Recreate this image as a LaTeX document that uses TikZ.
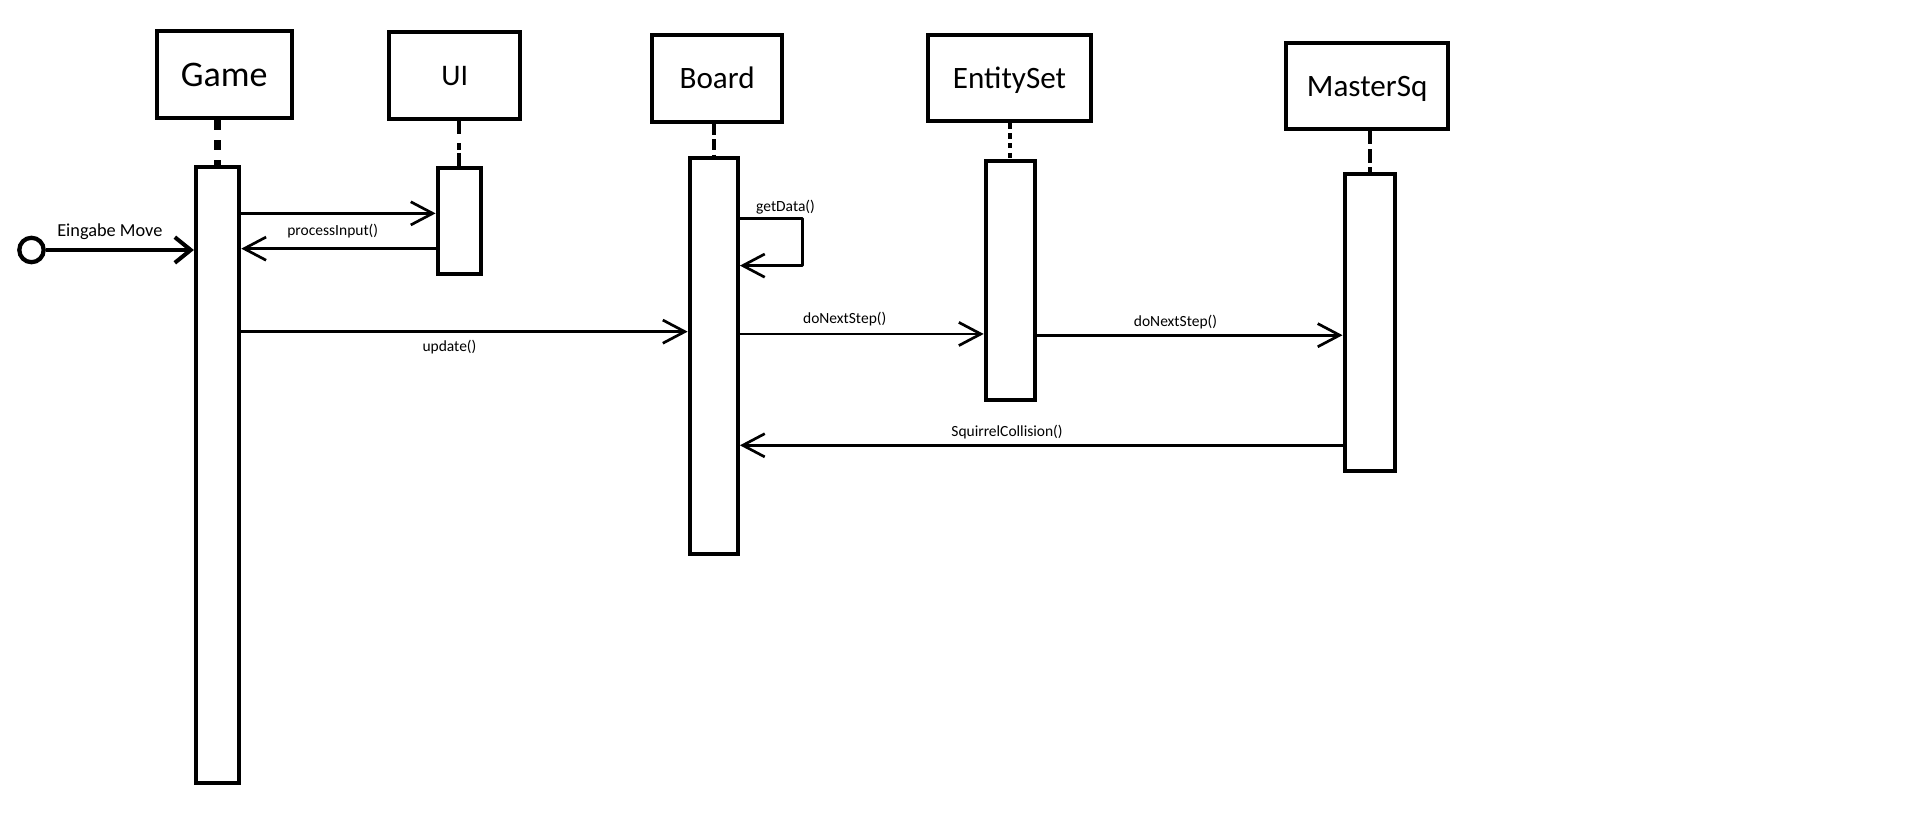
\documentclass[tikz,border=0pt]{standalone}
\usepackage{fontspec}
\setmainfont{Carlito}
\usetikzlibrary{arrows.meta}
\begin{document}
\begin{tikzpicture}[x=1pt,y=-1pt,
  obj/.style={draw, line width=3.3pt, inner sep=0pt, text height=16.8pt, text depth=0pt, font=\fontsize{25.5}{30}\selectfont},
  act/.style={draw, line width=3.3pt, inner sep=0pt, fill=white},
  msg/.style={line width=2.2pt, -{Straight Barb[length=18pt,width=19pt,line width=2.2pt]}},
  lbl/.style={inner sep=0pt, text height=8.4pt, text depth=0pt, font=\fontsize{12.7}{15}\selectfont},
  life/.style={line width=3.3pt}
]
\useasboundingbox[fill=white] (0,0) rectangle (1568,685);

% objects
\node[obj, minimum width=110.5pt, minimum height=71.5pt, text height=19.5pt, font=\fontsize{29.5}{34}\selectfont] (game) at (183.75,61.25) {Game};
\node[obj, minimum width=107pt, minimum height=71.5pt, text height=16.2pt, font=\fontsize{24.5}{30}\selectfont] (ui) at (372.5,61.75) {UI};
\node[obj, minimum width=106pt, minimum height=71.5pt] (board) at (587.5,64.25) {Board};
\node[obj, minimum width=134pt, minimum height=71pt] (es) at (827,64) {EntitySet};
\node[obj, minimum width=133pt, minimum height=70.5pt] (ms) at (1120,70.25) {MasterSq};

% activations
\node[act, minimum width=35.5pt, minimum height=504.5pt] (gameA) at (178.25,389.25) {};
\node[act, minimum width=35.5pt, minimum height=86.5pt] (uiA) at (376.25,181.25) {};
\node[act, minimum width=39.5pt, minimum height=324.5pt] (boardA) at (584.75,291.75) {};
\node[act, minimum width=40pt, minimum height=196.5pt] (esA) at (827.5,229.75) {};
\node[act, minimum width=41pt, minimum height=243.5pt] (msA) at (1122,264.25) {};

% lifelines
\draw[line width=6.4pt, dash pattern=on 8.2pt off 8.2pt] (gameA.north |- game.south) -- (gameA.north);
\draw[line width=3pt, dash pattern=on 11pt off 7.4pt on 5pt off 2.6pt on 30pt] (uiA.north |- ui.south) -- (uiA.north);
\draw[life, dash pattern=on 9pt off 3.5pt] (boardA.north |- board.south) -- (boardA.north);
\draw[life, dash pattern=on 4.5pt off 3.5pt] (esA.north |- es.south) -- (esA.north);
\draw[life, dash pattern=on 11pt off 4pt] (msA.north |- ms.south) -- (msA.north);

% initial message
\node[draw, circle, line width=3.5pt, minimum size=20pt, inner sep=0pt] (start) at (25.8,204.8) {};
\draw[line width=3.3pt, -{Straight Barb[length=13pt,width=21pt,line width=3.3pt]}] (start.east) -- (gameA.west |- start);
\node[lbl, text height=9.9pt, font=\fontsize{15}{18}\selectfont] (lEin) at (90,189) {Eingabe Move};

% processInput
\coordinate (y1) at (0,174.8);
\coordinate (y2) at (0,203.7);
\draw[msg] (gameA.east |- y1) -- (uiA.west |- y1);
\draw[msg] (uiA.west |- y2) -- (gameA.east |- y2);
\node[lbl] (lPI) at (272.6,189) {processInput()};

% update
\coordinate (y3) at (0,271.7);
\draw[msg] (gameA.east |- y3) -- (boardA.west |- y3);
\node[lbl] (lUp) at (368.2,284) {update()};

% getData self loop
\coordinate (y4) at (0,178.9);
\coordinate (y5) at (0,217.6);
\coordinate (c1) at (657.3,178.9);
\coordinate (c2) at (657.3,217.6);
\draw[msg, line join=round] (boardA.east |- y4) -- (c1) -- (c2) -- (boardA.east |- y5);
\node[lbl] (lGD) at (643.5,169.3) {getData()};

% doNextStep
\coordinate (y6) at (0,273.6);
\draw[msg] (boardA.east |- y6) -- (esA.west |- y6);
\node[lbl] (lDN1) at (692,260.7) {doNextStep()};
\coordinate (y7) at (0,274.6);
\draw[msg] (esA.east |- y7) -- (msA.west |- y7);
\node[lbl] (lDN2) at (963,263) {doNextStep()};

% SquirrelCollision
\coordinate (y8) at (0,364.8);
\draw[msg] (msA.west |- y8) -- (boardA.east |- y8);
\node[lbl] (lSC) at (825,353.6) {SquirrelCollision()};
\end{tikzpicture}
\end{document}
